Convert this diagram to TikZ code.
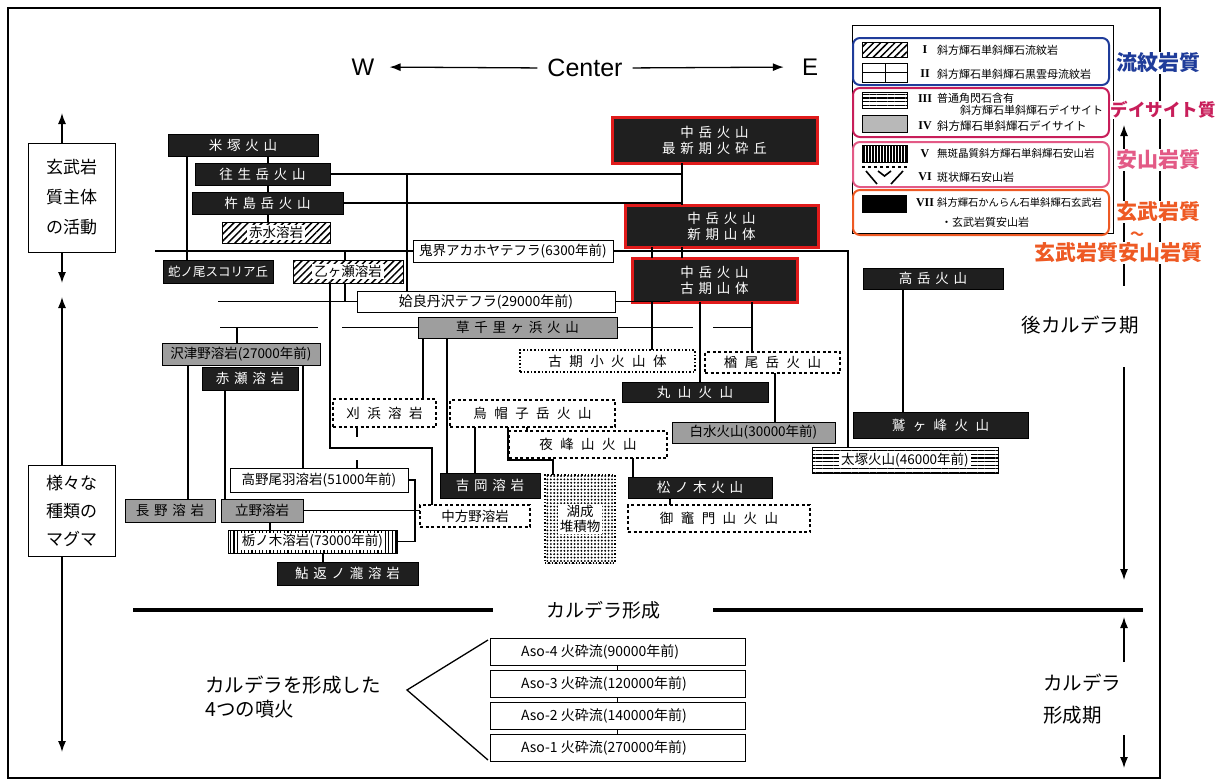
\documentclass[tikz,border=0pt]{standalone}
\usepackage{fontspec}
\setmainfont{Noto Sans CJK JP}
\newfontfamily\jp{Noto Sans CJK JP}
\newfontfamily\jpw[LetterSpace=35]{Noto Sans CJK JP}
\newfontfamily\jpww[LetterSpace=55]{Noto Sans CJK JP}
\newfontfamily\arl{Liberation Sans}
\newfontfamily\tms{Liberation Serif}
\usetikzlibrary{arrows.meta,patterns.meta}
\definecolor{cblue}{HTML}{1F3C9A}
\definecolor{ccrim}{HTML}{C81E5A}
\definecolor{cpink}{HTML}{E35A86}
\definecolor{corg}{HTML}{EE5A24}
\definecolor{cred}{HTML}{E01B1B}
\newcommand\fs[2]{\fontsize{#1}{#2}\selectfont}
\newcommand\bx[7]{%
  \pgfmathsetmacro\bw{#5-#3}\pgfmathsetmacro\bh{#6-#4}%
  \node[#1, minimum width=\bw pt, minimum height=\bh pt] (#2) at ({(#3+#5)/2},{(#4+#6)/2}) {#7};}
\newcommand\bxp[7]{\bx{#1}{#2}{#3}{#4}{#5}{#6}{}\node[txtbg] at (#2) {#7};}
\begin{document}
\begin{tikzpicture}[x=1pt,y=-1pt,
  base/.style={inner sep=0pt, outer sep=0pt, align=center, font=\jp\fs{13.5}{15}},
  s1/.style={font=\jpw\fs{13.5}{16}},
  s2/.style={font=\jpww\fs{13.5}{16}},
  sm/.style={font=\jp\fs{12.5}{14}},
  blk/.style={base, fill=black!88, draw=black, text=white},
  nak/.style={base, fill=black!88, draw=cred, line width=3pt, text=white},
  gry/.style={base, fill=black!38, draw=black, line width=0.9pt},
  wht/.style={base, fill=white, draw=black, line width=0.9pt},
  dotb/.style={base, fill=white, draw=black, dotted, line width=1.6pt},
  six/.style={base, fill=white, draw=black, line width=1.8pt, dash pattern=on 3pt off 2.5pt},
  hat/.style={base, draw=black, line width=0.9pt, pattern={Lines[angle=45,distance=5pt,line width=1.5pt]}},
  hor/.style={base, draw=black, line width=0.9pt, pattern={Lines[angle=0,distance=3.6pt,line width=1.2pt]}},
  ver/.style={base, draw=black, line width=0.9pt, pattern={Lines[angle=90,distance=3.6pt,line width=1.2pt]}},
  dts/.style={base, draw=black, dotted, line width=1.4pt, pattern={Dots[distance=3.4pt,radius=1.05pt]}},
  txtbg/.style={base, fill=white, inner xsep=2pt, inner ysep=1pt},
  con/.style={line width=1.2pt},
  arr/.style={line width=1.3pt, -{Latex[length=11pt,width=8pt]}},
  lbox/.style={draw, line width=1pt, fill=white, font=\jp\fs{17}{30}, inner sep=0pt, align=center},
  lg/.style={font=\jp\fs{11}{12}, inner sep=0pt, anchor=west},
  rn/.style={font=\tms\bfseries\fs{12}{12}, inner sep=0pt},
  clab/.style={font=\jp\bfseries\fs{21}{24}, fill=white, inner sep=0.5pt},
  lab/.style={font=\jp\fs{19}{22}, inner sep=0pt},
  aso/.style={wht, font=\jp\fs{14}{16}}
]
\useasboundingbox (0,0) rectangle (1224,782);
\draw[line width=1.2pt] (8,8) rectangle (1160,778);

% ---- W Center E
\node[font=\arl\fs{24}{26}, inner sep=0pt] (W) at (363,67) {W};
\node[font=\arl\fs{25}{27}, inner sep=0pt] (C) at (585,68) {Center};
\node[font=\arl\fs{24}{26}, inner sep=0pt] (E) at (810,67) {E};
\draw[arr, shorten <=10pt, shorten >=15pt] (C.west) -- (W.east);
\draw[arr, shorten <=10pt, shorten >=18pt] (C.east) -- (E.west);

% ---- left column
\bx{lbox}{k1}{28}{143}{115}{252}{玄武岩\\質主体\\の活動}
\bx{lbox, font=\jp\fs{17}{28}}{k2}{28}{465}{115}{556}{様々な\\種類の\\マグマ}
\coordinate (ka) at (62,113);
\coordinate (kb) at (62,283);
\coordinate (kc) at (62,297);
\coordinate (kd) at (62,752);
\draw[arr] (k1.north -| ka) -- (ka);
\draw[arr] (k1.south -| kb) -- (kb);
\draw[arr] (k2.north -| kc) -- (kc);
\draw[arr] (k2.south -| kd) -- (kd);

% ---- post-caldera arrow (behind labels)
\coordinate (pcT) at (1124,125);
\coordinate (pcB) at (1124,580);
\node[lab, font=\jp\fs{19.5}{22}] (pcl) at (1080,325) {後カルデラ期};
\draw[arr, shorten <=30pt] (pcl.north -| pcT) -- (pcT);
\draw[arr, shorten <=33pt] (pcl.south -| pcB) -- (pcB);

% ---- legend
\draw[line width=1pt] (852,25) rectangle (1113,233);
\draw[rounded corners=7pt, line width=2pt, cblue] (853,38) rectangle (1109,85);
\draw[rounded corners=7pt, line width=2pt, ccrim] (853,88) rectangle (1109,137);
\draw[rounded corners=7pt, line width=2pt, cpink] (853,142) rectangle (1109,187);
\draw[rounded corners=7pt, line width=2pt, corg] (853,190) rectangle (1109,235);
% swatches
\path[draw=black, line width=0.9pt, pattern={Lines[angle=45,distance=5pt,line width=1.5pt]}] (862,42) rectangle (907,57);
\draw[line width=1pt] (862,63) rectangle (907,82) (862,72.5) -- (907,72.5) (885,63) -- (885,82);
\path[draw=black, line width=0.9pt, pattern={Lines[angle=0,distance=3.6pt,line width=1.3pt]}] (862,92) rectangle (907,108);
\path[draw=black, line width=0.9pt, fill=black!28] (862,115) rectangle (907,132);
\path[draw=black, line width=0.9pt, pattern={Lines[angle=90,distance=3pt,line width=1.3pt]}] (862,145) rectangle (907,162);
\draw[line width=1.6pt, dash pattern=on 3pt off 3pt] (862,167) -- (907,167);
\draw[line width=1.6pt] (866,171) -- (877,184) (891,184) -- (903,171) (878,171) -- (884.5,176) -- (891,171);
\path[fill=black] (862,195) rectangle (907,213);
% numerals and texts
\node[rn] at (925,50) {I};
\node[rn] at (925,74) {II};
\node[rn] at (925,99) {III};
\node[rn] at (925,126) {IV};
\node[rn] at (925,154) {V};
\node[rn] at (925,177) {VI};
\node[rn] at (925,203) {VII};
\node[lg] at (937,50) {斜方輝石単斜輝石流紋岩};
\node[lg] at (937,74) {斜方輝石単斜輝石黒雲母流紋岩};
\node[lg] at (937,98) {普通角閃石含有};
\node[lg] at (960,110) {斜方輝石単斜輝石デイサイト};
\node[lg, font=\jp\fs{11.5}{12}] at (937,126) {斜方輝石単斜輝石デイサイト};
\node[lg, font=\jp\fs{10.5}{12}] at (937,154) {無斑晶質斜方輝石単斜輝石安山岩};
\node[lg] at (937,177) {斑状輝石安山岩};
\node[lg, font=\jp\fs{10.3}{12}] at (937,203) {斜方輝石かんらん石単斜輝石玄武岩};
\node[lg] at (941,222) {・玄武岩質安山岩};
% coloured labels
\node[clab, text=cblue] at (1158,63) {流紋岩質};
\node[clab, text=ccrim, font=\jp\bfseries\fs{17.5}{22}] at (1163,110) {デイサイト質};
\node[clab, text=cpink] at (1158,160) {安山岩質};
\node[clab, text=corg] at (1158,212) {玄武岩質};
\node[text=corg, font=\jp\bfseries\fs{14}{14}, inner sep=0pt] at (1137,236) {〜};
\node[clab, text=corg] at (1118,253) {玄武岩質安山岩質};

% ---- main nodes
\bx{blk,s1}{yone}{168}{134}{318}{156}{米塚火山}
\bx{blk,s1}{ojo}{195}{163}{330}{185}{往生岳火山}
\bx{blk,s1}{kij}{192}{192}{343}{214}{杵島岳火山}
\bxp{hat}{akm}{222}{222}{330}{243}{赤水溶岩}
\bx{blk,sm}{jan}{163}{260}{273}{283}{蛇ノ尾スコリア丘}
\bxp{hat}{oto}{293}{260}{403}{283}{乙ヶ瀬溶岩}
\bx{wht}{kik}{413}{240}{613}{262}{鬼界アカホヤテフラ(6300年前)}
\bx{wht, font=\jp\fs{14}{16}}{aira}{357}{291}{615}{312}{姶良丹沢テフラ(29000年前)}
\bx{nak,s1}{n1}{612}{117}{817}{163}{中岳火山\\最新期火砕丘}
\bx{nak,s1}{n2}{625}{205}{818}{247}{中岳火山\\新期山体}
\bx{nak,s1}{n3}{632}{258}{797}{302}{中岳火山\\古期山体}
\bx{gry}{saw}{162}{343}{320}{365}{沢津野溶岩(27000年前)}
\bx{gry,s1}{kus}{418}{317}{617}{338}{草千里ヶ浜火山}
\bx{blk,s1}{aka2}{202}{367}{298}{390}{赤瀬溶岩}
\bx{six,s2}{kar}{333}{399}{436}{427}{刈浜溶岩}
\bx{six,s2}{ebo}{450}{400}{615}{427}{烏帽子岳火山}
\bx{six,s2}{yom}{509}{431}{667}{458}{夜峰山火山}
\bx{dotb,s2}{koki}{520}{350}{695}{372}{古期小火山体}
\bx{six,s2}{nar}{705}{352}{840}{373}{楢尾岳火山}
\bx{blk,s2}{mar}{622}{382}{768}{402}{丸山火山}
\bx{gry}{shi}{672}{422}{835}{443}{白水火山(30000年前)}
\bx{blk,s1}{tak}{863}{268}{1003}{289}{高岳火山}
\bx{blk,s2}{was}{853}{412}{1028}{438}{鷲ヶ峰火山}
\bxp{hor}{taz}{812}{447}{998}{473}{太塚火山(46000年前)}
\bx{wht}{tkn}{230}{468}{408}{492}{高野尾羽溶岩(51000年前)}
\bx{gry,s1}{nag}{125}{499}{215}{522}{長野溶岩}
\bx{gry}{tat}{221}{499}{303}{522}{立野溶岩}
\bxp{ver}{toc}{228}{530}{397}{553}{栃ノ木溶岩(73000年前)}
\bx{blk,s1}{ayu}{277}{562}{418}{585}{鮎返ノ瀧溶岩}
\bx{blk,s1}{yos}{440}{473}{540}{498}{吉岡溶岩}
\bx{six}{nak2}{420}{505}{530}{527}{中方野溶岩}
\bxp{dts}{kos}{545}{475}{615}{563}{湖成\\堆積物}
\bx{blk,s1}{mat}{628}{477}{772}{498}{松ノ木火山}
\bx{six,s2}{mik}{628}{505}{810}{532}{御竈門山火山}

% ---- connectors
\draw[con] (187,0 |- yone.south) -- (187,0 |- jan.north);
\draw[con] (268,0 |- yone.south) -- (268,0 |- ojo.north);
\draw[con] (268,0 |- ojo.south) -- (268,0 |- kij.north);
\draw[con] (268,0 |- kij.south) -- (268,0 |- akm.north);
\draw[con] (ojo.east) -- (682,0 |- ojo.east);
\draw[con] (kij.east) -- (682,0 |- kij.east);
\draw[con] (682,0 |- n1.south) -- (682,0 |- n2.north);
\draw[con] (652,0 |- n2.south) -- (652,0 |- n3.north);
\draw[con] (682,0 |- n2.south) -- (682,0 |- n3.north);
\draw[con] (407,0 |- ojo.east) -- (407,0 |- aira.north);
\draw[con] (155,0 |- kik.west) -- (kik.west);
\draw[con] (kik.east) -- (848,0 |- kik.east) -- (848,0 |- taz.north);
\draw[con] (345,0 |- kik.west) -- (345,0 |- oto.north);
\draw[con] (345,0 |- oto.south) -- (345,0 |- aira.west);
\draw[con] (218,0 |- aira.west) -- (aira.west);
\draw[con] (aira.east) -- (670,0 |- aira.east);
\draw[con] (330,0 |- oto.south) -- (330,448) -- (432,448) -- (432,0 |- nak2.north);
\draw[con] (220,0 |- kus.west) -- (318,0 |- kus.west);
\draw[con] (342,0 |- kus.west) -- (kus.west);
\draw[con] (kus.east) -- (693,0 |- kus.east);
\draw[con] (713,0 |- kus.east) -- (752,0 |- kus.east);
\draw[con] (752,0 |- n3.south) -- (752,0 |- nar.north);
\draw[con] (237,0 |- kus.west) -- (237,0 |- saw.north);
\draw[con] (188,0 |- saw.south) -- (188,0 |- nag.north);
\draw[con] (225,0 |- aka2.south) -- (225,0 |- tat.north);
\draw[con] (303,0 |- saw.south) -- (303,0 |- tkn.north);
\draw[con] (423,0 |- kus.south) -- (423,0 |- kar.north);
\draw[con] (447,0 |- kus.south) -- (447,0 |- yos.north);
\draw[con] (357,0 |- kar.south) -- (357,437);
\draw[con] (357,460) -- (357,0 |- tkn.north);
\draw[con] (tkn.east) -- (415,0 |- tkn.east) -- (415,0 |- toc.east) -- (toc.east);
\draw[con] (tat.east) -- (tat.east -| nak2.west);
\draw[con] (270,0 |- tat.south) -- (270,0 |- toc.north);
\draw[con] (323,0 |- toc.south) -- (323,0 |- ayu.north);
\draw[con] (475,0 |- ebo.south) -- (475,0 |- yos.north);
\draw[con] (508,0 |- ebo.south) -- (508,460) -- (553,460) -- (553,0 |- kos.north);
\draw[con] (527,0 |- ebo.south) -- (527,0 |- yom.north);
\draw[con] (633,0 |- yom.south) -- (633,0 |- mat.north);
\draw[con] (670,0 |- mat.south) -- (670,0 |- mik.north);
\draw[con] (652,0 |- n3.south) -- (652,0 |- koki.north);
\draw[con] (700,0 |- n3.south) -- (700,0 |- mar.north);
\draw[con] (775,0 |- nar.south) -- (775,0 |- shi.north);
\draw[con] (903,0 |- tak.south) -- (903,0 |- was.north);

% ---- caldera formation
\node[lab] (cf) at (603,610) {カルデラ形成};
\coordinate (cfL) at (133,610);
\coordinate (cfL2) at (493,610);
\coordinate (cfR2) at (713,610);
\coordinate (cfR) at (1143,610);
\draw[line width=4pt] (cfL) -- (cfL2);
\draw[line width=4pt] (cfR2) -- (cfR);
\node[lab, align=left, anchor=west, font=\jp\fs{19.5}{32}] (cfp) at (1043,699) {カルデラ\\形成期};
\coordinate (cpA) at (1124,662);
\coordinate (cpT) at (1124,617);
\coordinate (cpC) at (1124,735);
\coordinate (cpB) at (1124,768);
\draw[arr] (cpA) -- (cpT);
\draw[arr] (cpC) -- (cpB);

% ---- Aso flows
\bx{aso}{aso4}{490}{638}{745}{665}{\makebox[255pt][l]{\hspace{31pt}Aso-4 火砕流(90000年前)}}
\bx{aso}{aso3}{490}{670}{745}{697}{\makebox[255pt][l]{\hspace{31pt}Aso-3 火砕流(120000年前)}}
\bx{aso}{aso2}{490}{702}{745}{729}{\makebox[255pt][l]{\hspace{31pt}Aso-2 火砕流(140000年前)}}
\bx{aso}{aso1}{490}{734}{745}{761}{\makebox[255pt][l]{\hspace{31pt}Aso-1 火砕流(270000年前)}}
\draw[con, line width=0.8pt] (617,0 |- aso4.south) -- (617,0 |- aso3.north);
\draw[con, line width=0.8pt] (617,0 |- aso3.south) -- (617,0 |- aso2.north);
\draw[con, line width=0.8pt] (617,0 |- aso2.south) -- (617,0 |- aso1.north);
\coordinate (bt) at (488,640);
\coordinate (bm) at (407,690);
\coordinate (bb) at (488,760);
\draw[line width=1.3pt] (bt) -- (bm) -- (bb);
\node[lab, align=left, anchor=west, font=\jp\fs{19.5}{24}] (eru) at (205,697) {カルデラを形成した\\4つの噴火};
\end{tikzpicture}
\end{document}
